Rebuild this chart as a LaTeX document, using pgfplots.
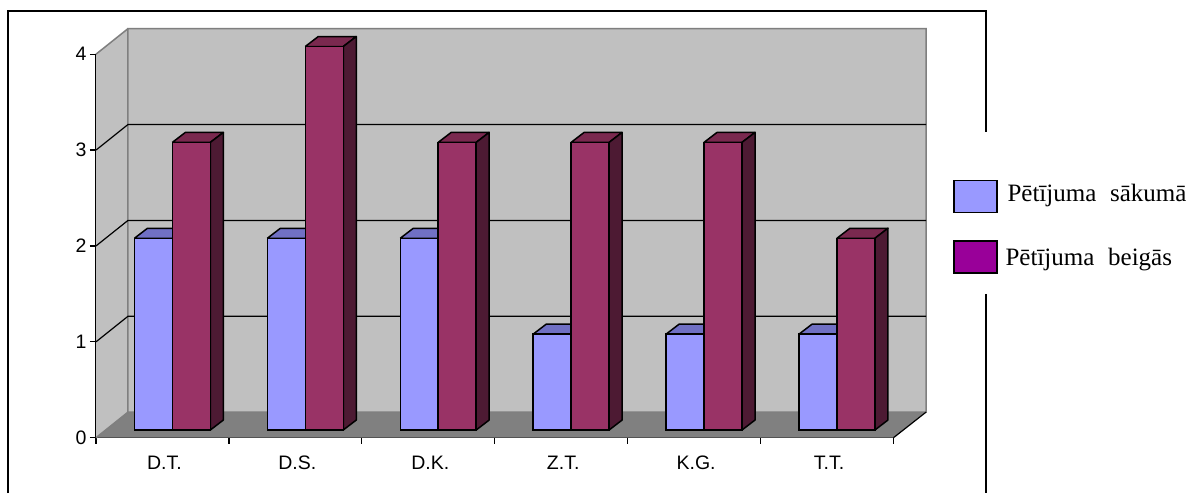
\documentclass[border=0pt]{standalone}
\usepackage{fontspec}
\setmainfont{Liberation Sans}
\newfontfamily\legendfont{Liberation Serif}
\usepackage{pgfplots}
\usepackage{pgfplotstable}
\pgfplotsset{compat=1.18}

\definecolor{wall}{HTML}{C0C0C0}
\definecolor{floorc}{HTML}{808080}
\definecolor{edgec}{HTML}{7F7F7F}
\definecolor{bluef}{HTML}{9999FF}
\definecolor{bluet}{HTML}{7070C4}
\definecolor{blues}{HTML}{4D4D80}
\definecolor{redf}{HTML}{993366}
\definecolor{redt}{HTML}{7A294F}
\definecolor{reds}{HTML}{4D1A33}
\definecolor{legm}{HTML}{990099}

\pgfplotstableread{
x a b
0 2 3
1 2 4
2 2 3
3 1 3
4 1 3
5 1 2
}\results

% depth faces of one series: #1 column, #2 bar shift in px, #3 top colour, #4 side colour
\newcommand{\depthfaces}[4]{%
  \pgfplotsforeachungrouped \i in {0,...,5}{%
    \pgfplotstablegetelem{\i}{#1}\of\results
    \let\v\pgfplotsretval
    \pgfmathsetmacro\xl{\i+(#2-19)/132.92}
    \pgfmathsetmacro\xr{\i+(#2+19)/132.92}
    \pgfmathsetmacro\xld{\xl+0.0978}
    \pgfmathsetmacro\xrd{\xr+0.0978}
    \pgfmathsetmacro\vd{\v+0.104}
    \edef\faces{%
      \noexpand\addplot[forget plot,yshift=7.7pt,fill=#3,draw=black,line width=1.5pt,line join=round]
        coordinates {(\xl,\v)(\xld,\vd)(\xrd,\vd)(\xr,\v)(\xl,\v)};
      \noexpand\addplot[forget plot,yshift=7.7pt,fill=#4,draw=black,line width=1.5pt,line join=round]
        coordinates {(\xr,0)(\xrd,0.104)(\xrd,\vd)(\xr,\v)(\xr,0)};
    }\faces
  }%
}

\begin{document}
\begin{tikzpicture}
\path[use as bounding box,fill=white] (0pt,0pt) rectangle (1191pt,493pt);
% outer frame, open behind the legend
\draw[line width=1.5pt] (8pt,0pt) -- (8pt,482pt) -- (986pt,482pt) -- (986pt,361pt);
\draw[line width=1.5pt] (986pt,199pt) -- (986pt,0pt);

\begin{axis}[
    at={(96pt,55.3pt)}, anchor=south west,
    scale only axis, width=797.5pt, height=383.5pt,
    clip=false,
    xmin=-0.5, xmax=5.5, ymin=0, ymax=4,
    axis x line=bottom, axis y line=left,
    axis line style={-,line width=1.5pt,black},
    xtick={-0.5,0.5,...,5.5},
    xticklabels={D.T.,D.S.,D.K.,Z.T.,K.G.,T.T.},
    x tick label as interval,
    x tick label style={yshift=-9pt,xshift=2pt},
    xtick style={black,line width=1.2pt},
    ytick={0,1,2,3,4},
    ytick style={black,line width=1.2pt},
    tick align=outside, major tick length=6pt,
    tick label style={font=\fontsize{19.5}{22}\selectfont},
    /pgf/number format/assume math mode=true,
    yticklabel style={xshift=0pt},
    legend style={at={(1.0746,0.673)},anchor=north west,draw=none,fill=none,
      inner sep=0pt,outer sep=0pt,row sep=27pt,
      font=\legendfont\fontsize{25}{27}\selectfont,
      nodes={inner sep=0pt}},
    legend cell align=left,
    legend image code/.code={\draw[#1,line width=1.5pt] (0pt,-16pt) rectangle (43pt,16pt);},
  ]

% walls and floor
\fill[wall] (axis cs:-0.5,0) -- (axis cs:-0.2593,0.2665) -- (axis cs:-0.2593,4.2665) -- (axis cs:-0.5,4) -- cycle;
\fill[wall] (axis cs:-0.2593,0.2665) rectangle (axis cs:5.7445,4.2665);
\fill[floorc] (axis cs:-0.5,0) -- (axis cs:5.5,0) -- (axis cs:5.7445,0.2665) -- (axis cs:-0.2593,0.2665) -- cycle;
\draw[edgec,line width=1.5pt] (axis cs:-0.5,0) -- (axis cs:-0.2593,0.2665) -- (axis cs:-0.2593,4.2665) -- (axis cs:5.7445,4.2665) -- (axis cs:5.7445,0.2665) -- (axis cs:-0.2593,0.2665);
\draw[edgec,line width=1.5pt] (axis cs:-0.5,4) -- (axis cs:-0.2593,4.2665);
\draw[black,line width=1.2pt] (axis cs:5.5,0) -- (axis cs:5.7445,0.2665);
% gridlines on the side wall and the back wall
\foreach \g in {1,2,3}{
  \edef\gridline{\noexpand\draw[black,line width=1.2pt] (axis cs:-0.5,\g) -- (axis cs:-0.2593,\g+0.2665) -- (axis cs:5.7445,\g+0.2665);}
  \gridline
}

% first series
\depthfaces{a}{-9}{bluet}{blues}
\addplot[forget plot,ybar,bar width=38pt,bar shift=-9pt,yshift=7.7pt,fill=bluef,draw=black,line width=1.5pt]
  table[x=x,y=a] {\results};
% second series
\depthfaces{b}{28.9}{redt}{reds}
\addplot[forget plot,ybar,bar width=38pt,bar shift=28.9pt,yshift=7.7pt,fill=redf,draw=black,line width=1.5pt]
  table[x=x,y=b] {\results};

\addlegendimage{fill=bluef,draw=black}
\addlegendentry{\hspace*{10pt}\raisebox{-6pt}[0pt][0pt]{P\=et\=\i juma\hspace{0.3em} s\=akum\=a}}
\addlegendimage{fill=legm,draw=black}
\addlegendentry{\hspace*{8pt}\raisebox{-9pt}[0pt][0pt]{P\=et\=\i juma\hspace{0.3em} beig\=as}}
\end{axis}
\end{tikzpicture}
\end{document}
